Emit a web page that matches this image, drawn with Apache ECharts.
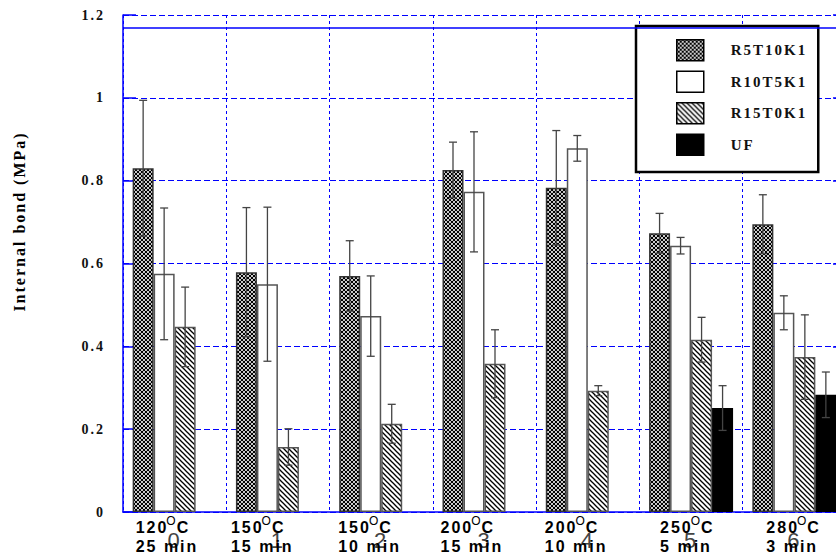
<!DOCTYPE html>
<html>
<head>
<meta charset="utf-8">
<script src="https://cdn.jsdelivr.net/npm/echarts@6/dist/echarts.min.js"></script>
<style>
  html, body { margin: 0; padding: 0; background: #fff; }
  #chart { width: 836px; height: 555px; }
  /* the original typesetting uses widely tracked characters */
  #chart svg text { letter-spacing: 2px; }
</style>
</head>
<body>
<div id="chart"></div>
<script>
// ---- data -------------------------------------------------------------
const categories   = ['0', '1', '2', '3', '4', '5', '6'];
const temperatures = ['120', '150', '150', '200', '200', '250', '280'];
const durations    = ['25 min', '15 min', '10 min', '15 min', '10 min', '5 min', '3 min'];
const seriesNames  = ['R5T10K1', 'R10T5K1', 'R15T0K1', 'UF'];

const r5t10k1    = [0.830, 0.579, 0.570, 0.826, 0.783, 0.673, 0.695];
const r5t10k1Err = [0.164, 0.156, 0.085, 0.067, 0.138, 0.048, 0.071];
const r10t5k1    = [0.575, 0.550, 0.473, 0.773, 0.878, 0.643, 0.481];
const r10t5k1Err = [0.159, 0.186, 0.097, 0.145, 0.031, 0.020, 0.041];
const r15t0k1    = [0.447, 0.157, 0.213, 0.358, 0.293, 0.416, 0.374];
const r15t0k1Err = [0.096, 0.044, 0.047, 0.082, 0.012, 0.054, 0.102];
const uf         = [null, null, null, null, null, 0.251, 0.283];
const ufErr      = [null, null, null, null, null, 0.054, 0.055];

const yMin = 0, yMax = 1.2, yStep = 0.2;
const frameTop = 1.17;   // solid upper frame line of the plot
const yTitle = 'Internal bond (MPa)';

// ---- layout / style constants ------------------------------------------
const BAR_W = 21;
const CAP_HALF = 4;
const BLUE = '#0000ff';
const captionShift = [-39, -47, -43, -44, -43, -31, -28]; // caption left edge vs category centre
const CAPTION_LINE1 = 527.5;
const CAPTION_LINE2 = 546;

function makeTile(w, h, draw) {
  const c = document.createElement('canvas');
  c.width = w; c.height = h;
  draw(c.getContext('2d'), w, h);
  return { image: c, repeat: 'repeat', imageWidth: w, imageHeight: h };
}
// dotted cross-hatch: white dots on black in a diagonal lattice
const crossFill = makeTile(8, 8, (g, w, h) => {
  g.fillStyle = '#000'; g.fillRect(0, 0, w, h);
  g.fillStyle = '#fff';
  for (let x = -4; x <= 12; x += 2) {
    for (let y = -4; y <= 12; y += 2) {
      if (((x + y) / 2) % 2 !== 0) continue;
      g.beginPath(); g.arc(x, y, 1.05, 0, Math.PI * 2); g.fill();
    }
  }
});
// backslash hatch
const hatchFill = makeTile(5, 5, (g, w, h) => {
  g.fillStyle = '#fff'; g.fillRect(0, 0, w, h);
  g.strokeStyle = '#000'; g.lineWidth = 1.3;
  for (let k = -1; k <= 1; k++) {
    g.beginPath(); g.moveTo(k * 5 - 1, -1); g.lineTo(k * 5 + 6, 6); g.stroke();
  }
});

const fills = [crossFill, '#ffffff', hatchFill, '#000000'];
const borders = ['#333', '#555', '#555', '#000'];
const values = [r5t10k1, r10t5k1, r15t0k1, uf];
const errors = [r5t10k1Err, r10t5k1Err, r15t0k1Err, ufErr];

const errData = [];
values.forEach((vals, s) => vals.forEach((v, i) => {
  if (v != null) errData.push([i, v - errors[s][i], v + errors[s][i], s]);
}));

const chart = echarts.init(document.getElementById('chart'), null, { renderer: 'svg' });

const barSeries = seriesNames.map((name, s) => ({
  name, type: 'bar', data: values[s],
  barWidth: BAR_W, barGap: '0%',
  itemStyle: { color: fills[s], borderColor: borders[s], borderWidth: 1.5 },
  markLine: s === 0 ? {
    silent: true, symbol: 'none', label: { show: false },
    lineStyle: { color: BLUE, type: 'solid', width: 1.5 },
    data: [{ yAxis: frameTop }]
  } : undefined
}));

const axisFont = { fontFamily: 'Liberation Serif', fontWeight: 'bold', color: '#111' };

chart.setOption({
  animation: false,
  backgroundColor: '#fff',
  grid: { left: 123, right: -10, top: 15, bottom: 43, containLabel: false, outerBoundsMode: 'none' },
  legend: {
    data: seriesNames, orient: 'vertical', left: 636, top: 26,
    padding: [13, 25, 16, 40], itemGap: 9, itemWidth: 27, itemHeight: 21,
    icon: 'rect', selectedMode: false,
    backgroundColor: '#fff', borderColor: '#000', borderWidth: 2.5,
    itemStyle: { borderColor: '#000', borderWidth: 1.5 },
    textStyle: { fontFamily: 'Liberation Serif', fontWeight: 'bold', fontSize: 15, color: '#111',
                 padding: [0, 0, 0, 22] }
  },
  xAxis: [{
    type: 'category', data: categories, boundaryGap: true,
    axisLine: { lineStyle: { color: BLUE, width: 1.5 } },
    axisTick: { show: false },
    axisLabel: { interval: 0, margin: 17, fontFamily: 'Liberation Sans', fontSize: 22, color: '#444' },
    splitLine: { show: true, interval: 0, lineStyle: { color: BLUE, type: [3, 3], width: 1 } }
  }],
  yAxis: [{
    type: 'value', min: yMin, max: yMax, interval: yStep,
    axisLine: { show: true, lineStyle: { color: BLUE, width: 1.5 } },
    axisTick: { show: true, inside: true, length: 13, lineStyle: { color: BLUE, width: 1.5 } },
    axisLabel: Object.assign({ fontSize: 14, margin: 18, padding: [6, 0, 0, 0] }, axisFont),
    splitLine: { show: true, lineStyle: { color: BLUE, type: [6, 3], width: 1 } }
  }, {
    type: 'value', min: yMin, max: yMax, interval: yStep, position: 'right',
    axisLine: { show: true, lineStyle: { color: BLUE, width: 1.5 } },
    axisTick: { show: true, inside: true, length: 13, lineStyle: { color: BLUE, width: 1.5 } },
    axisLabel: { show: false }, splitLine: { show: false }
  }],
  series: barSeries.concat([{
    type: 'custom', name: 'error', data: errData, z: 5, silent: true,
    xAxisIndex: 0, yAxisIndex: 0,
    encode: { x: 0, y: [1, 2] },
    renderItem: (params, api) => {
      const i = api.value(0), lo = api.value(1), hi = api.value(2), s = api.value(3);
      const pLo = api.coord([i, lo]), pHi = api.coord([i, hi]);
      const x = pLo[0] + (s - 1.5) * BAR_W;
      const style = { stroke: '#444', lineWidth: 1.3 };
      return { type: 'group', children: [
        { type: 'line', shape: { x1: x, y1: pLo[1], x2: x, y2: pHi[1] }, style },
        { type: 'line', shape: { x1: x - CAP_HALF, y1: pHi[1], x2: x + CAP_HALF, y2: pHi[1] }, style },
        { type: 'line', shape: { x1: x - CAP_HALF, y1: pLo[1], x2: x + CAP_HALF, y2: pLo[1] }, style }
      ] };
    }
  }])
});

// process-condition captions under each category, plus the rotated axis title
const capFont = { fontFamily: 'Liberation Sans', fontWeight: 'bold', fontSize: 16, color: '#111' };
const graphics = [];
categories.forEach((c, i) => {
  const x = chart.convertToPixel({ xAxisIndex: 0 }, c) + captionShift[i];
  graphics.push({
    type: 'text', x, y: CAPTION_LINE1, z: 10, silent: true,
    style: {
      text: `{t|${temperatures[i]}}{o|O}{c|C}`,
      align: 'left', verticalAlign: 'middle',
      rich: {
        t: Object.assign({ lineHeight: 26, padding: [0, 4, 0, 0] }, capFont),
        o: { fontFamily: 'Liberation Sans', fontSize: 12, color: '#111', lineHeight: 12,
             verticalAlign: 'top', padding: [0, 1, 0, 0] },
        c: Object.assign({ lineHeight: 26 }, capFont)
      }
    }
  });
  graphics.push({
    type: 'text', x, y: CAPTION_LINE2, z: 10, silent: true,
    style: Object.assign({ text: durations[i], align: 'left', verticalAlign: 'middle' }, capFont)
  });
});
graphics.push({
  type: 'text', x: 19.5, y: 221.5, rotation: Math.PI / 2, silent: true,
  style: Object.assign({ text: yTitle, align: 'center', verticalAlign: 'middle', fontSize: 16 }, axisFont)
});
chart.setOption({ graphic: graphics });
</script>
</body>
</html>
